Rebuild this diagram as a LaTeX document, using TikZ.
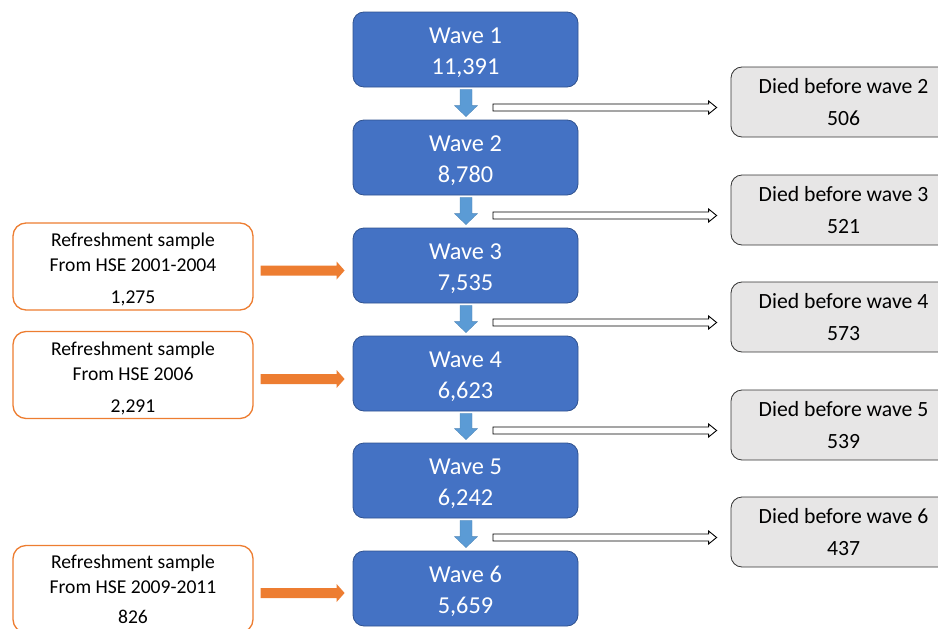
\documentclass[tikz,border=0pt]{standalone}
\usepackage{fontspec}
\setmainfont{Carlito}
\usetikzlibrary{calc}
\definecolor{waveblue}{HTML}{4472C4}
\definecolor{waveedge}{HTML}{2F528F}
\definecolor{arrowblue}{HTML}{5B9BD5}
\definecolor{orangeC}{HTML}{ED7D31}
\definecolor{greyfill}{HTML}{E7E6E6}
\newcommand\wavestrut{\rule{0pt}{21.6pt}}
\newcommand\refstrut{\rule{0pt}{20.5pt}}
\tikzset{
  wavebox/.style={draw=waveedge, line width=0.8pt, fill=waveblue, rounded corners=11pt,
    minimum width=225pt, minimum height=75pt, inner sep=0pt, align=center, text=white,
    font=\fontsize{24.3}{31}\selectfont},
  diedbox/.style={draw=black!80, line width=0.8pt, fill=greyfill, rounded corners=11pt,
    minimum width=225pt, minimum height=70pt, inner sep=0pt, align=center, text=black,
    font=\fontsize{21.7}{32}\selectfont},
  refbox/.style={draw=orangeC, line width=1.3pt, fill=white, rounded corners=13pt,
    minimum width=240pt, minimum height=87pt, inner sep=0pt, align=center, text=black,
    font=\fontsize{19.6}{25}\selectfont},
}
\newcommand\bluedown[2]{%
  \path let \p1=(#1.south), \p2=(#2.north) in
    [fill=arrowblue, draw=arrowblue!85!black, line width=0.3pt]
    (\x1+0.5-6,\y1-2) -- (\x1+0.5+6,\y1-2) -- (\x1+0.5+6,\y2+14) -- (\x1+0.5+11.5,\y2+14)
    -- (\x1+0.5,\y2+3) -- (\x1+0.5-11.5,\y2+14) -- (\x1+0.5-6,\y2+14) -- cycle;}
\newcommand\whiteright[2]{%
  \path let \p1=(#1.south), \p2=(#2.west) in
    [fill=white, draw=black, line width=0.9pt]
    (\x1+27.5,\y2-2) -- (\x2-22,\y2-2) -- (\x2-22,\y2+1) -- (\x2-14,\y2-5.5)
    -- (\x2-22,\y2-12) -- (\x2-22,\y2-9) -- (\x1+27.5,\y2-9) -- cycle;}
\newcommand\orangeright[2]{%
  \path let \p1=(#1.east), \p2=(#2.west) in
    [fill=orangeC]
    (\x1+7,\y1+1) -- (\x2-16,\y1+1) -- (\x2-16,\y1+5) -- (\x2-8,\y1-4)
    -- (\x2-16,\y1-13) -- (\x2-16,\y1-9) -- (\x1+7,\y1-9) -- cycle;}
\begin{document}
\begin{tikzpicture}[x=1pt,y=1pt]
\useasboundingbox (0,0) rectangle (938,-629);
\node[wavebox] (w1) at (465.5,-49.5) {\wavestrut Wave 1\\11,391};
\node[wavebox] (w2) at (465.5,-157.5) {\wavestrut Wave 2\\8,780};
\node[wavebox] (w3) at (465.5,-265.5) {\wavestrut Wave 3\\7,535};
\node[wavebox] (w4) at (465.5,-373.5) {\wavestrut Wave 4\\6,623};
\node[wavebox] (w5) at (465.5,-480.5) {\wavestrut Wave 5\\6,242};
\node[wavebox] (w6) at (465.5,-588.5) {\wavestrut Wave 6\\5,659};
\node[diedbox] (d2) at (843.5,-102) {Died before wave 2\\506};
\node[diedbox] (d3) at (843.5,-210) {Died before wave 3\\521};
\node[diedbox] (d4) at (843.5,-317) {Died before wave 4\\573};
\node[diedbox] (d5) at (843.5,-425) {Died before wave 5\\539};
\node[diedbox] (d6) at (843.5,-532) {Died before wave 6\\437};
\node[refbox] (r3) at (133,-266.5) {\refstrut Refreshment sample\\From HSE 2001-2004\\[7pt]1,275};
\node[refbox] (r4) at (133,-375) {\refstrut Refreshment sample\\From HSE 2006\\[7pt]2,291};
\node[refbox] (r6) at (133,-589) {Refreshment sample\\From HSE 2009-2011\\[5pt]826};
\bluedown{w1}{w2}
\bluedown{w2}{w3}
\bluedown{w3}{w4}
\bluedown{w4}{w5}
\bluedown{w5}{w6}
\whiteright{w1}{d2}
\whiteright{w2}{d3}
\whiteright{w3}{d4}
\whiteright{w4}{d5}
\whiteright{w5}{d6}
\orangeright{r3}{w3}
\orangeright{r4}{w4}
\orangeright{r6}{w6}
\end{tikzpicture}
\end{document}
